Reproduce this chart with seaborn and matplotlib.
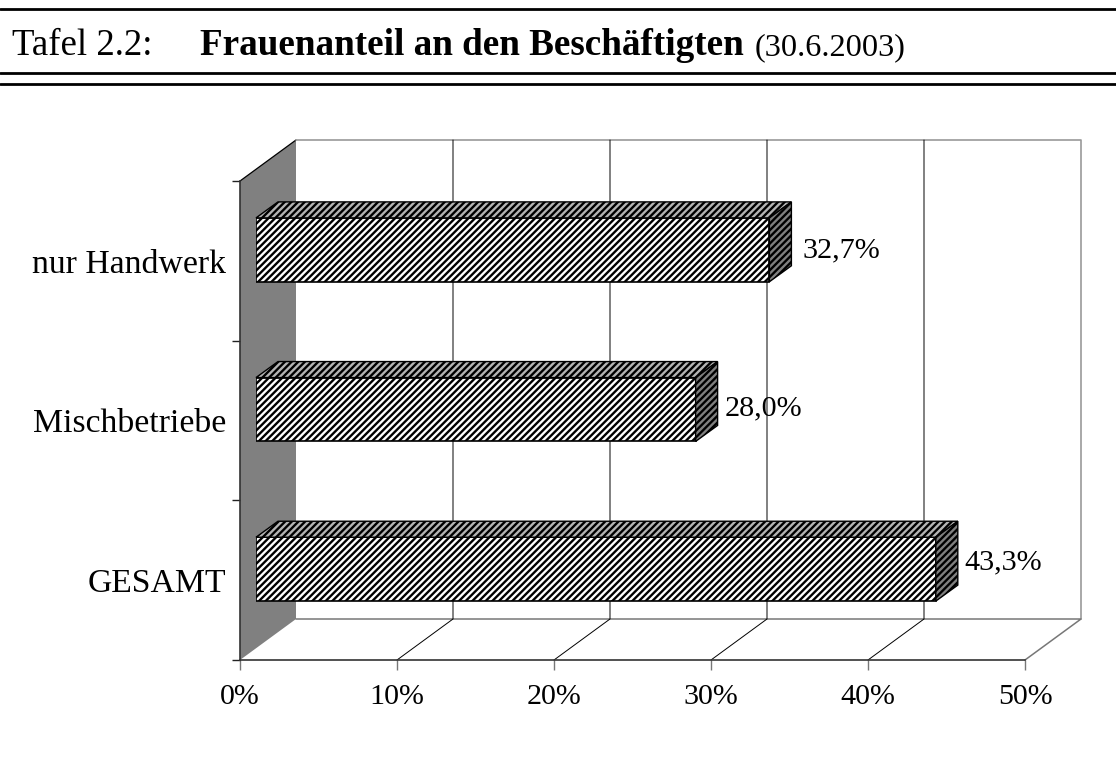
import matplotlib
matplotlib.use("Agg")
import matplotlib.pyplot as plt
import seaborn as sns
from matplotlib.lines import Line2D
from matplotlib.patches import Polygon

categories = ["nur Handwerk", "Mischbetriebe", "GESAMT"]
values = [32.7, 28.0, 43.3]
xticks = [0, 10, 20, 30, 40, 50]

W, H = 1116, 760

sns.set_style("white")
plt.rcParams["font.family"] = ["Liberation Serif", "DejaVu Serif"]
plt.rcParams["hatch.linewidth"] = 1.7
plt.rcParams["text.color"] = "black"
plt.rcParams["xtick.labelcolor"] = "black"
plt.rcParams["ytick.labelcolor"] = "black"

HATCH = "/////"


def px_box(left, right, top, bottom):
    return [left / W, 1 - bottom / H, (right - left) / W, (bottom - top) / H]


fig = plt.figure(figsize=(W / 100, H / 100), dpi=100, facecolor="white")

# header with rules
for y, lw in [(9, 2.0), (73, 2.0), (84, 2.0)]:
    fig.add_artist(Line2D([0, 1], [1 - y / H, 1 - y / H], color="black", lw=lw))
fig.text(12 / W, 1 - 55 / H, "Tafel 2.2:", fontsize=26.6)
fig.text(200 / W, 1 - 55 / H, "Frauenanteil an den Beschäftigten", fontsize=26.7, fontweight="bold")
fig.text(755 / W, 1 - 55 / H, "(30.6.2003)", fontsize=23.3)

# front plane of the 3d box
ax = fig.add_axes(px_box(240, 1025, 181, 660))
ax.set_xlim(0, 50)
ax.set_ylim(2.5, -0.5)
ax.patch.set_alpha(0)
ax.set_xticks(xticks)
ax.set_xticklabels([f"{t}%" for t in xticks], fontsize=21.6)
ax.set_yticks(range(len(categories)))
ax.set_yticklabels(categories, fontsize=24.3)
ax.set_yticks([-0.5, 0.5, 1.5, 2.5], minor=True)
ax.tick_params(axis="y", which="major", length=0, pad=10)
ax.tick_params(axis="y", which="minor", length=6, width=1.0, color="#222222", left=True)
ax.tick_params(axis="x", length=7, width=1.0, color="#777777", bottom=True, pad=10)
for name in ["top", "right"]:
    ax.spines[name].set_visible(False)
for name in ["left", "bottom"]:
    ax.spines[name].set_color("#333333")
    ax.spines[name].set_linewidth(1.2)

# walls, depth in data units of the front plane
wall_dx = 56 / 15.7
wall_dy = -41 / 159.67
ax.add_patch(Polygon([(0, 2.5), (wall_dx, 2.5 + wall_dy), (wall_dx, -0.5 + wall_dy), (0, -0.5)],
                     closed=True, facecolor="#808080", edgecolor="none", clip_on=False, zorder=0))
ax.plot([0, wall_dx], [-0.5, -0.5 + wall_dy], color="black", lw=0.9, clip_on=False)
ax.plot([wall_dx, 50 + wall_dx, 50 + wall_dx], [-0.5 + wall_dy, -0.5 + wall_dy, 2.5 + wall_dy],
        color="#999999", lw=1.2, clip_on=False)
ax.plot([wall_dx, 50 + wall_dx, 50], [2.5 + wall_dy, 2.5 + wall_dy, 2.5],
        color="#777777", lw=1.1, clip_on=False)
for t in xticks[1:-1]:
    ax.plot([t, t + wall_dx, t + wall_dx], [2.5, 2.5 + wall_dy, -0.5 + wall_dy],
            color="black", lw=0.7, clip_on=False)

# bars sit a little behind the front plane, so they get their own axes
bar_ax = fig.add_axes(px_box(256, 1041, 170, 649))
bar_ax.patch.set_alpha(0)
sns.barplot(x=values, y=categories, order=categories, color="white", saturation=1,
            width=0.4, edgecolor="black", linewidth=1.2, hatch=HATCH, ax=bar_ax)
bar_ax.set_xlim(0, 50)
bar_ax.set_ylim(2.5, -0.5)
bar_ax.axis("off")

dx = 22 / 15.7
dy = -16 / 159.67
half = 0.2
for i, v in enumerate(values):
    bar_ax.add_patch(Polygon([(0, i - half), (v, i - half), (v + dx, i - half + dy), (dx, i - half + dy)],
                             closed=True, facecolor="#b4b4b4", edgecolor="black", hatch=HATCH,
                             linewidth=1.0, clip_on=False))
    bar_ax.add_patch(Polygon([(v, i - half), (v + dx, i - half + dy), (v + dx, i + half + dy), (v, i + half)],
                             closed=True, facecolor="#808080", edgecolor="black", hatch=HATCH,
                             linewidth=1.0, clip_on=False))

label_offsets = [(33, -1), (29, 1), (29, 7)]
for i, v in enumerate(values):
    bar_ax.annotate(f"{v:.1f}%".replace(".", ","), (v, i), xytext=label_offsets[i],
                    textcoords="offset pixels", fontsize=21.7, va="center", ha="left",
                    annotation_clip=False)

fig.savefig("out.png", dpi=100)
